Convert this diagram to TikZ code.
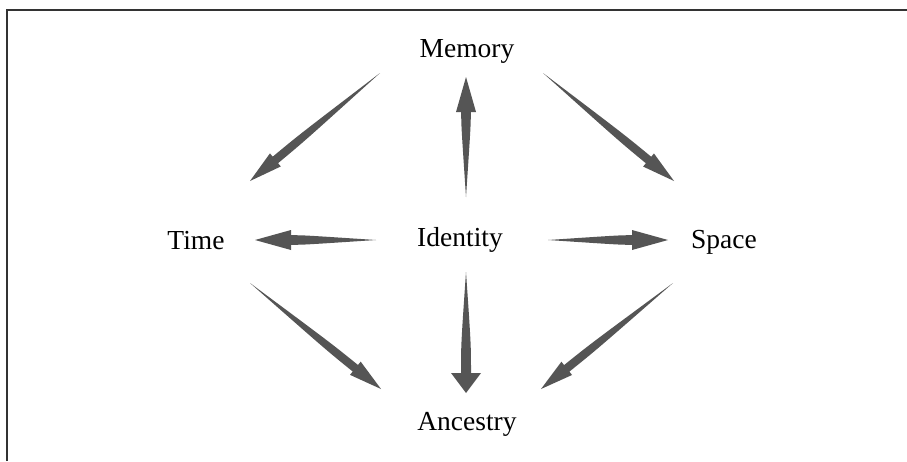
\documentclass[tikz,border=0pt]{standalone}
\usepackage{fontspec}
\setmainfont{Liberation Serif}
\usetikzlibrary{calc}
\definecolor{arrowgrey}{HTML}{555555}
\tikzset{
  label text/.style={font=\fontsize{27.5}{32}\selectfont, inner sep=0pt, text=black},
  frame line/.style={draw=black!80, line width=1.3pt}
}
% Tapered arrow: #1 tail, #2 tip, #3 head length, #4 head half width, #5 shaft half width
\newcommand{\taperarrow}[5]{%
  \fill[arrowgrey] (#1)
    .. controls ($(#1)!0.6!(#2)!#5!90:(#2)$) .. ($(#2)!#3!(#1)!#5!-90:(#1)$)
    -- ($(#2)!#3!(#1)!#4!-90:(#1)$) -- (#2) -- ($(#2)!#3!(#1)!#4!90:(#1)$)
    -- ($(#2)!#3!(#1)!#5!90:(#1)$)
    .. controls ($(#1)!0.6!(#2)!#5!-90:(#2)$) .. (#1) -- cycle;}
\begin{document}
\begin{tikzpicture}[x=1pt,y=-1pt]
  \useasboundingbox (0,0) rectangle (907,461);
  \fill[white] (0,0) rectangle (907,461);
  % open frame: top and left edges only
  \draw[frame line] (7,461) -- (7,10) -- (907,10);

  % labels
  \node[label text] (memory)   at (467,51)  {Memory};
  \node[label text] (identity) at (460,240) {Identity};
  \node[label text] (time)     at (196,241) {Time};
  \node[label text] (space)    at (724,242) {Space};
  \node[label text] (ancestry) at (467,424) {Ancestry};

  % connector end points
  \coordinate (idm-a) at (466,197); \coordinate (idm-b) at (466,77);
  \coordinate (ida-a) at (466,272); \coordinate (ida-b) at (466,393);
  \coordinate (idt-a) at (376,240); \coordinate (idt-b) at (255,240);
  \coordinate (ids-a) at (548,240); \coordinate (ids-b) at (668,240);
  \coordinate (mt-a)  at (380,73);  \coordinate (mt-b)  at (250,181);
  \coordinate (ms-a)  at (543,73);  \coordinate (ms-b)  at (674,181);
  \coordinate (ta-a)  at (250,283); \coordinate (ta-b)  at (381,389);
  \coordinate (sa-a)  at (673,283); \coordinate (sa-b)  at (541,389);

  % arrows out of Identity
  \taperarrow{idm-a}{idm-b}{35pt}{10pt}{4.8pt}
  \taperarrow{ida-a}{ida-b}{20pt}{15pt}{5pt}
  \taperarrow{idt-a}{idt-b}{36pt}{10pt}{4.8pt}
  \taperarrow{ids-a}{ids-b}{36pt}{10pt}{4.8pt}

  % diagonal arrows
  \taperarrow{mt-a}{mt-b}{33pt}{8.5pt}{4.2pt}
  \taperarrow{ms-a}{ms-b}{33pt}{8.5pt}{4.2pt}
  \taperarrow{ta-a}{ta-b}{33pt}{8.5pt}{4.2pt}
  \taperarrow{sa-a}{sa-b}{33pt}{8.5pt}{4.2pt}
\end{tikzpicture}
\end{document}
